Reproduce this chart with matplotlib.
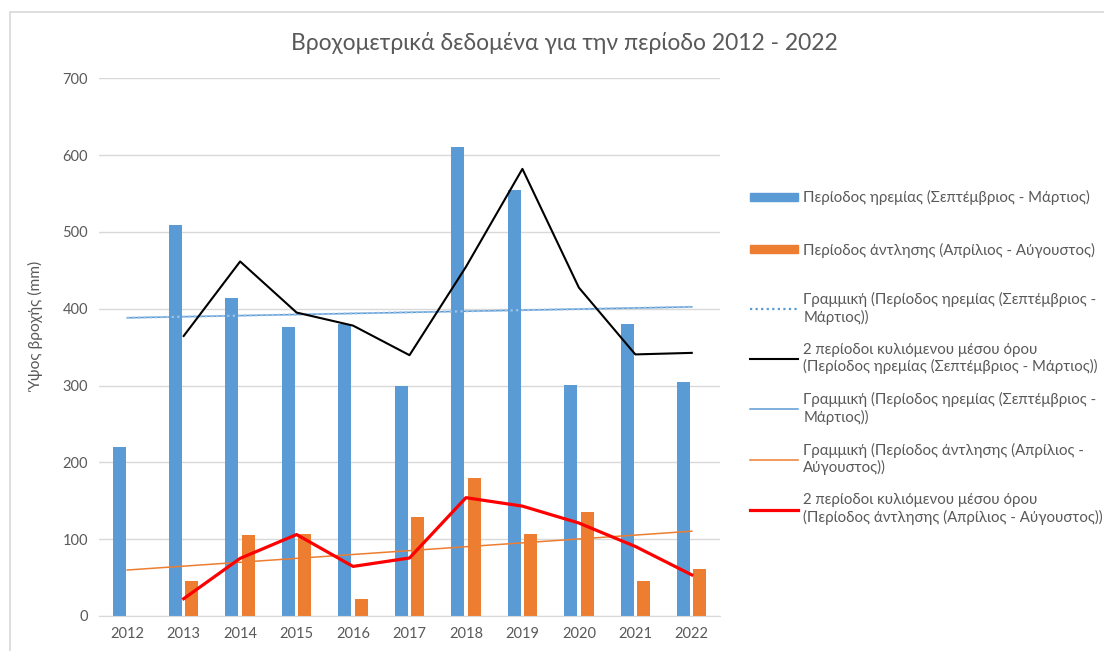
import numpy as np
import pandas as pd
import matplotlib
matplotlib.use("Agg")
import matplotlib.pyplot as plt
from matplotlib.patches import Rectangle
from matplotlib.lines import Line2D

plt.rcParams['font.family'] = ['Lato', 'Open Sans', 'DejaVu Sans']

years = ['2012', '2013', '2014', '2015', '2016', '2017', '2018', '2019', '2020', '2021', '2022']
# rainfall in mm
wet_season = [220, 509, 414, 376, 380, 299, 610, 554, 301, 380, 305]   # Sep - Mar
dry_season = [0, 45, 105, 107, 22, 129, 179, 107, 135, 46, 61]        # Apr - Aug

BLUE = '#5b9bd5'
ORANGE = '#ed7d31'
TXT = '#595959'
GRID = '#d9d9d9'

x = np.arange(len(years))
wet = np.array(wet_season, dtype=float)
dry = np.array(dry_season, dtype=float)

# 2-period moving averages and linear trends, as Excel draws them
wet_ma = pd.Series(wet).rolling(2).mean().values
dry_ma = pd.Series(dry).rolling(2).mean().values
wet_fit = np.polyval(np.polyfit(x, wet, 1), x)
dry_fit = np.polyval(np.polyfit(x, dry, 1), x)

fig = plt.figure(figsize=(11.04, 6.51), dpi=100)
fig.patches.append(Rectangle((10 / 1104, -0.1), 1.2, 1 - 12 / 651 + 0.1,
                             transform=fig.transFigure, fill=False,
                             edgecolor=GRID, linewidth=1.2))

ax = fig.add_axes([99 / 1104, 0.0538, 621 / 1104, 0.826])
w = 0.23
off = 0.145
ax.bar(x - off, wet, width=w, color=BLUE, zorder=2)
ax.bar(x + off, dry, width=w, color=ORANGE, zorder=2)

ax.plot(x, wet_fit, color=BLUE, lw=1.1, zorder=3)
ax.plot(x, wet_fit, color='#9dc3e6', lw=1.6, ls=(0, (1, 1.5)), zorder=3)
ax.plot(x, dry_fit, color=ORANGE, lw=1.1, zorder=3)
ax.plot(x, wet_ma, color='black', lw=1.5, zorder=4)
ax.plot(x, dry_ma, color='#ff0000', lw=2.3, zorder=4)

ax.set_xlim(-0.5, len(years) - 0.5)
ax.set_ylim(0, 700)
ax.set_yticks(np.arange(0, 701, 100))
ax.set_xticks(x)
ax.set_xticklabels(years)
ax.tick_params(length=0, colors=TXT, labelsize=10.5, pad=8)
ax.yaxis.grid(True, color=GRID, lw=1)
ax.set_axisbelow(True)
for s in ['top', 'right', 'left']:
    ax.spines[s].set_visible(False)
ax.spines['bottom'].set_color(GRID)
ax.set_ylabel('Ύψος βροχής (mm)', color=TXT, fontsize=11.2)
ax.yaxis.set_label_coords(-0.087, 0.537)

fig.text(0.511, 0.934, 'Βροχομετρικά δεδομένα για την περίοδο 2012 - 2022',
         ha='center', va='center', color=TXT, fontsize=16.5)

bar_handles = [Rectangle((0, 0), 1, 1, color=BLUE),
               Rectangle((0, 0), 1, 1, color=ORANGE)]
bar_labels = ['Περίοδος ηρεμίας (Σεπτέμβριος - Μάρτιος)',
              'Περίοδος άντλησης (Απρίλιος - Αύγουστος)']
line_handles = [
    Line2D([], [], color=BLUE, lw=1.6, ls=(0, (1, 1.5))),
    Line2D([], [], color='black', lw=1.5),
    Line2D([], [], color=BLUE, lw=1.1),
    Line2D([], [], color=ORANGE, lw=1.1),
    Line2D([], [], color='#ff0000', lw=2.3),
]
line_labels = [
    'Γραμμική (Περίοδος ηρεμίας (Σεπτέμβριος -\nΜάρτιος))',
    '2 περίοδοι κυλιόμενου μέσου όρου\n(Περίοδος ηρεμίας (Σεπτέμβριος - Μάρτιος))',
    'Γραμμική (Περίοδος ηρεμίας (Σεπτέμβριος -\nΜάρτιος))',
    'Γραμμική (Περίοδος άντλησης (Απρίλιος -\nΑύγουστος))',
    '2 περίοδοι κυλιόμενου μέσου όρου\n(Περίοδος άντλησης (Απρίλιος - Αύγουστος))',
]
common = dict(frameon=False, fontsize=10.8, labelcolor=TXT, handlelength=3.2,
              handleheight=0.45, handletextpad=0.35, borderpad=0, borderaxespad=0)
fig.legend(bar_handles, bar_labels, loc='upper left',
           bbox_to_anchor=(750 / 1104, 1 - 190 / 651), labelspacing=2.5, **common)
fig.legend(line_handles, line_labels, loc='upper left',
           bbox_to_anchor=(750 / 1104, 1 - 292 / 651), labelspacing=1.2, **common)

fig.savefig('out.png', dpi=100)
